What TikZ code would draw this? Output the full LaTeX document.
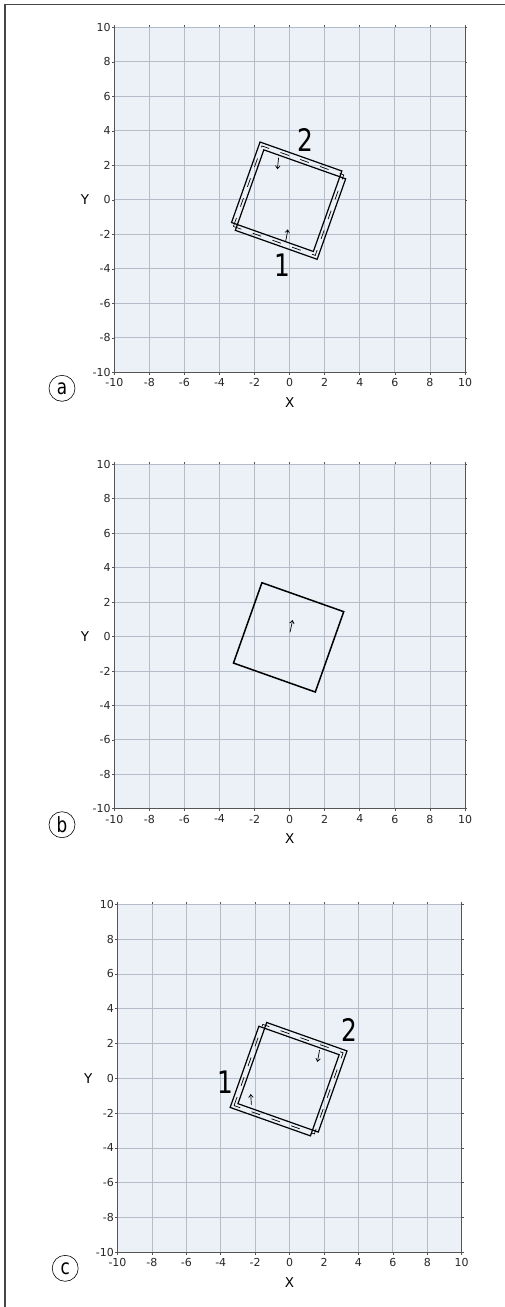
\documentclass[tikz,border=0pt]{standalone}
\usepackage{fontspec}
\setmainfont{DejaVu Sans}
\usepackage{graphicx}
\usetikzlibrary{arrows.meta}
\definecolor{plotbg}{RGB}{236,240,247}
\definecolor{gridc}{RGB}{180,188,202}
\definecolor{axisc}{RGB}{85,85,85}
\definecolor{framec}{RGB}{70,70,70}
\tikzset{
  gridline/.style={draw=gridc, line width=0.8pt},
  axisline/.style={draw=axisc, line width=0.9pt},
  tickmark/.style={draw=axisc, line width=0.6pt},
  ticklab/.style={font=\fontsize{11}{12}\selectfont, inner sep=0pt, text=black!85},
  axlab/.style={font=\fontsize{13.5}{15}\selectfont, inner sep=0pt},
  bignum/.style={font=\fontsize{31}{33}\selectfont, inner sep=0pt},
  sqline/.style={line width=1.2pt, line join=miter},
  sqthick/.style={line width=1.5pt, line join=miter},
  midline/.style={line width=0.7pt, dash pattern=on 9pt off 12pt},
  dirarrow/.style={line width=0.7pt, -{Straight Barb[length=3pt,width=4.5pt]}},
  panelcirc/.style={circle, draw, line width=0.6pt, minimum size=26pt, inner sep=0pt, font=\fontsize{21}{23}\selectfont},
}
\newcommand\plotframe[1]{%
  \fill[plotbg] (-10,-10) rectangle (10,10);
  \foreach \v in {-8,-6,...,8} {
    \draw[gridline] (\v,-10) -- (\v,10);
    \draw[gridline] (-10,\v) -- (10,\v);
  }
  \draw[gridline] (-10,10) -- (10,10);
  \draw[axisline] (-10,10) -- (-10,-10) -- (10,-10) -- (10,10);
  \foreach \v in {-10,-8,...,10} {
    \draw[tickmark] (\v,-10) -- ++(0,-2.5pt);
    \draw[tickmark] (\v,10) -- ++(0,2pt);
    \draw[tickmark] (-10,\v) -- ++(-2.5pt,0);
    \draw[tickmark] (10,\v) -- ++(2pt,0);
    \node[ticklab, anchor=north, yshift=-6pt] (#1xt\v) at (\v,-10) {\v};
    \node[ticklab, anchor=east, xshift=-3.5pt] (#1yt\v) at (-10,\v) {\v};
  }
  \node[axlab, yshift=-30pt] (#1X) at (0,-10) {X};
  \node[axlab, xshift=-29.3pt] (#1Y) at (-10,0) {Y};
  \node[panelcirc, xshift=-52.3pt, yshift=-16pt] (#1lab) at (-10,-10) {\scalebox{0.8}[1]{#1}};
}
\begin{document}
\begin{tikzpicture}[x=1pt,y=1pt]
\useasboundingbox (0,0) rectangle (505,-1307);
\draw[framec, line width=1.2pt] (505,-4.3) -- (5,-4.3) -- (5,-1307);

% ---------- panel a ----------
\begin{scope}[shift={(289.65pt,-199.8pt)}, x=17.535pt, y=17.25pt]
  \plotframe{a}
  \begin{scope}[shift={(-0.06,-0.05)}, rotate=-19.5]
    \draw[sqline] (-2.652,-2.298) rectangle (2.298,2.652);
    \draw[sqline] (-2.298,-2.652) rectangle (2.652,2.298);
    \draw[midline] (-2.475,-2.475) rectangle (2.475,2.475);
  \end{scope}
  \coordinate (a1s) at (-0.23,-2.43);
  \coordinate (a1e) at (-0.10,-1.71);
  \coordinate (a2s) at (-0.63,2.44);
  \coordinate (a2e) at (-0.70,1.77);
  \draw[dirarrow] (a1s) -- (a1e);
  \draw[dirarrow] (a2s) -- (a2e);
  \node[bignum] (aone) at (-0.44,-3.78) {\scalebox{0.8}[1]{1}};
  \node[bignum] (atwo) at (0.88,3.47) {\scalebox{0.8}[1]{2}};
\end{scope}

% ---------- panel b ----------
\begin{scope}[shift={(289.65pt,-636.5pt)}, x=17.535pt, y=17.22pt]
  \plotframe{b}
  \begin{scope}[shift={(-0.06,-0.05)}, rotate=-19.5]
    \draw[sqthick] (-2.475,-2.475) rectangle (2.475,2.475);
  \end{scope}
  \coordinate (bs) at (0.02,0.24);
  \coordinate (be) at (0.17,0.96);
  \draw[dirarrow] (bs) -- (be);
\end{scope}

% ---------- panel c ----------
\begin{scope}[shift={(289.6pt,-1078.3pt)}, x=17.21pt, y=17.4pt]
  \plotframe{c}
  \begin{scope}[shift={(-0.06,-0.05)}, rotate=-19.5]
    \draw[sqline] (-2.298,-2.298) rectangle (2.652,2.652);
    \draw[sqline] (-2.652,-2.652) rectangle (2.298,2.298);
    \draw[midline] (-2.475,-2.475) rectangle (2.475,2.475);
  \end{scope}
  \coordinate (c1s) at (-2.22,-1.53);
  \coordinate (c1e) at (-2.26,-0.90);
  \coordinate (c2s) at (1.74,1.63);
  \coordinate (c2e) at (1.62,0.94);
  \draw[dirarrow] (c1s) -- (c1e);
  \draw[dirarrow] (c2s) -- (c2e);
  \node[bignum] (cone) at (-3.71,-0.23) {\scalebox{0.8}[1]{1}};
  \node[bignum] (ctwo) at (3.47,2.78) {\scalebox{0.8}[1]{2}};
\end{scope}
\end{tikzpicture}
\end{document}
